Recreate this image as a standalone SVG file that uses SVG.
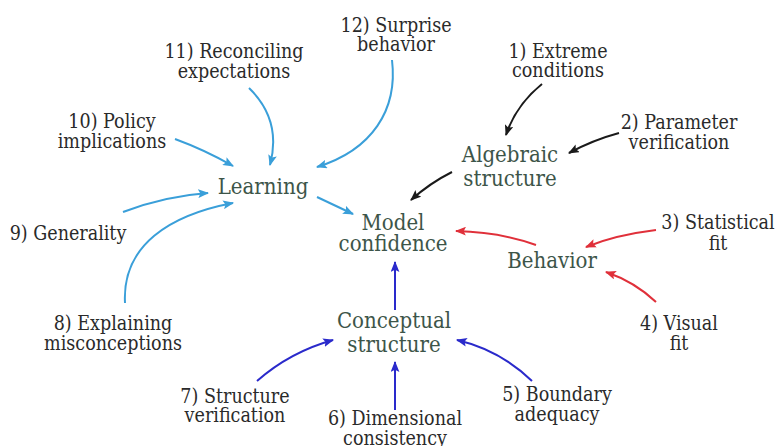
<svg xmlns="http://www.w3.org/2000/svg" width="779" height="446" viewBox="0 0 779 446">
<defs>
<style>
text{font-family:"DejaVu Serif Condensed","DejaVu Serif","Liberation Serif",serif;font-stretch:condensed;text-anchor:middle}
.a{font-size:19.5px;fill:#2a2a2a}
.n{font-size:22px;fill:#3d5549}
.c{fill:none;stroke-width:2}
.lb{stroke:#3a9fd9}
.bk{stroke:#1a1a1a}
.rd{stroke:#e0303a}
.db{stroke:#2a2acb}
</style>
<marker id="mlb" viewBox="0 0 10 8" refX="9" refY="4" markerWidth="11" markerHeight="9" markerUnits="userSpaceOnUse" orient="auto"><path d="M0,0 L10,4 L0,8 L2,4 z" fill="#3a9fd9"/></marker>
<marker id="mbk" viewBox="0 0 10 8" refX="9" refY="4" markerWidth="11" markerHeight="9" markerUnits="userSpaceOnUse" orient="auto"><path d="M0,0 L10,4 L0,8 L2,4 z" fill="#1a1a1a"/></marker>
<marker id="mrd" viewBox="0 0 10 8" refX="9" refY="4" markerWidth="11" markerHeight="9" markerUnits="userSpaceOnUse" orient="auto"><path d="M0,0 L10,4 L0,8 L2,4 z" fill="#e0303a"/></marker>
<marker id="mdb" viewBox="0 0 10 8" refX="9" refY="4" markerWidth="11" markerHeight="9" markerUnits="userSpaceOnUse" orient="auto"><path d="M0,0 L10,4 L0,8 L2,4 z" fill="#2a2acb"/></marker>
</defs>
<rect width="779" height="446" fill="#ffffff"/>
<g id="connectors">
<path class="c lb" marker-end="url(#mlb)" d="M249,88 Q282,120 270,165"/>
<path class="c lb" marker-end="url(#mlb)" d="M392,60 C398,110 372,150 317,167"/>
<path class="c lb" marker-end="url(#mlb)" d="M175,139 Q205,150 233,166"/>
<path class="c lb" marker-end="url(#mlb)" d="M123,212 Q165,196 208,193"/>
<path class="c lb" marker-end="url(#mlb)" d="M125,303 C122,245 170,215 233,203"/>
<path class="c lb" marker-end="url(#mlb)" d="M317,197 L353,214"/>
<path class="c bk" marker-end="url(#mbk)" d="M542,84 Q516,105 506,135"/>
<path class="c bk" marker-end="url(#mbk)" d="M619,133 Q593,140 569,153"/>
<path class="c bk" marker-end="url(#mbk)" d="M452,172 Q430,183 411,200"/>
<path class="c rd" marker-end="url(#mrd)" d="M536,245 Q500,232 456,231"/>
<path class="c rd" marker-end="url(#mrd)" d="M656,230 Q615,235 586,247"/>
<path class="c rd" marker-end="url(#mrd)" d="M656,302 Q635,282 606,272"/>
<path class="c db" marker-end="url(#mdb)" d="M395,310 L395,262"/>
<path class="c db" marker-end="url(#mdb)" d="M395,410 L395,362"/>
<path class="c db" marker-end="url(#mdb)" d="M257,381 Q290,352 333,340"/>
<path class="c db" marker-end="url(#mdb)" d="M532,381 Q500,350 457,340"/>
</g>
<g id="model-confidence"><text class="n" x="393" y="230">Model</text><text class="n" x="393" y="251">confidence</text></g>
<g id="learning"><text class="n" x="263" y="194">Learning</text></g>
<g id="algebraic-structure"><text class="n" x="510" y="162">Algebraic</text><text class="n" x="510" y="186">structure</text></g>
<g id="behavior"><text class="n" x="552" y="268">Behavior</text></g>
<g id="conceptual-structure"><text class="n" x="394" y="328">Conceptual</text><text class="n" x="394" y="352">structure</text></g>
<g id="n1"><text class="a" x="558" y="58">1) Extreme</text><text class="a" x="558" y="77">conditions</text></g>
<g id="n2"><text class="a" x="679" y="129">2) Parameter</text><text class="a" x="679" y="149">verification</text></g>
<g id="n3"><text class="a" x="718" y="229">3) Statistical</text><text class="a" x="718" y="250">fit</text></g>
<g id="n4"><text class="a" x="679" y="330">4) Visual</text><text class="a" x="679" y="350">fit</text></g>
<g id="n5"><text class="a" x="557" y="401">5) Boundary</text><text class="a" x="557" y="421">adequacy</text></g>
<g id="n6"><text class="a" x="395" y="425">6) Dimensional</text><text class="a" x="395" y="445">consistency</text></g>
<g id="n7"><text class="a" x="235" y="403">7) Structure</text><text class="a" x="235" y="422">verification</text></g>
<g id="n8"><text class="a" x="113" y="330">8) Explaining</text><text class="a" x="113" y="350">misconceptions</text></g>
<g id="n9"><text class="a" x="68" y="240">9) Generality</text></g>
<g id="n10"><text class="a" x="112" y="128">10) Policy</text><text class="a" x="112" y="148">implications</text></g>
<g id="n11"><text class="a" x="234" y="58">11) Reconciling</text><text class="a" x="234" y="78">expectations</text></g>
<g id="n12"><text class="a" x="396" y="32">12) Surprise</text><text class="a" x="396" y="51">behavior</text></g>
</svg>
